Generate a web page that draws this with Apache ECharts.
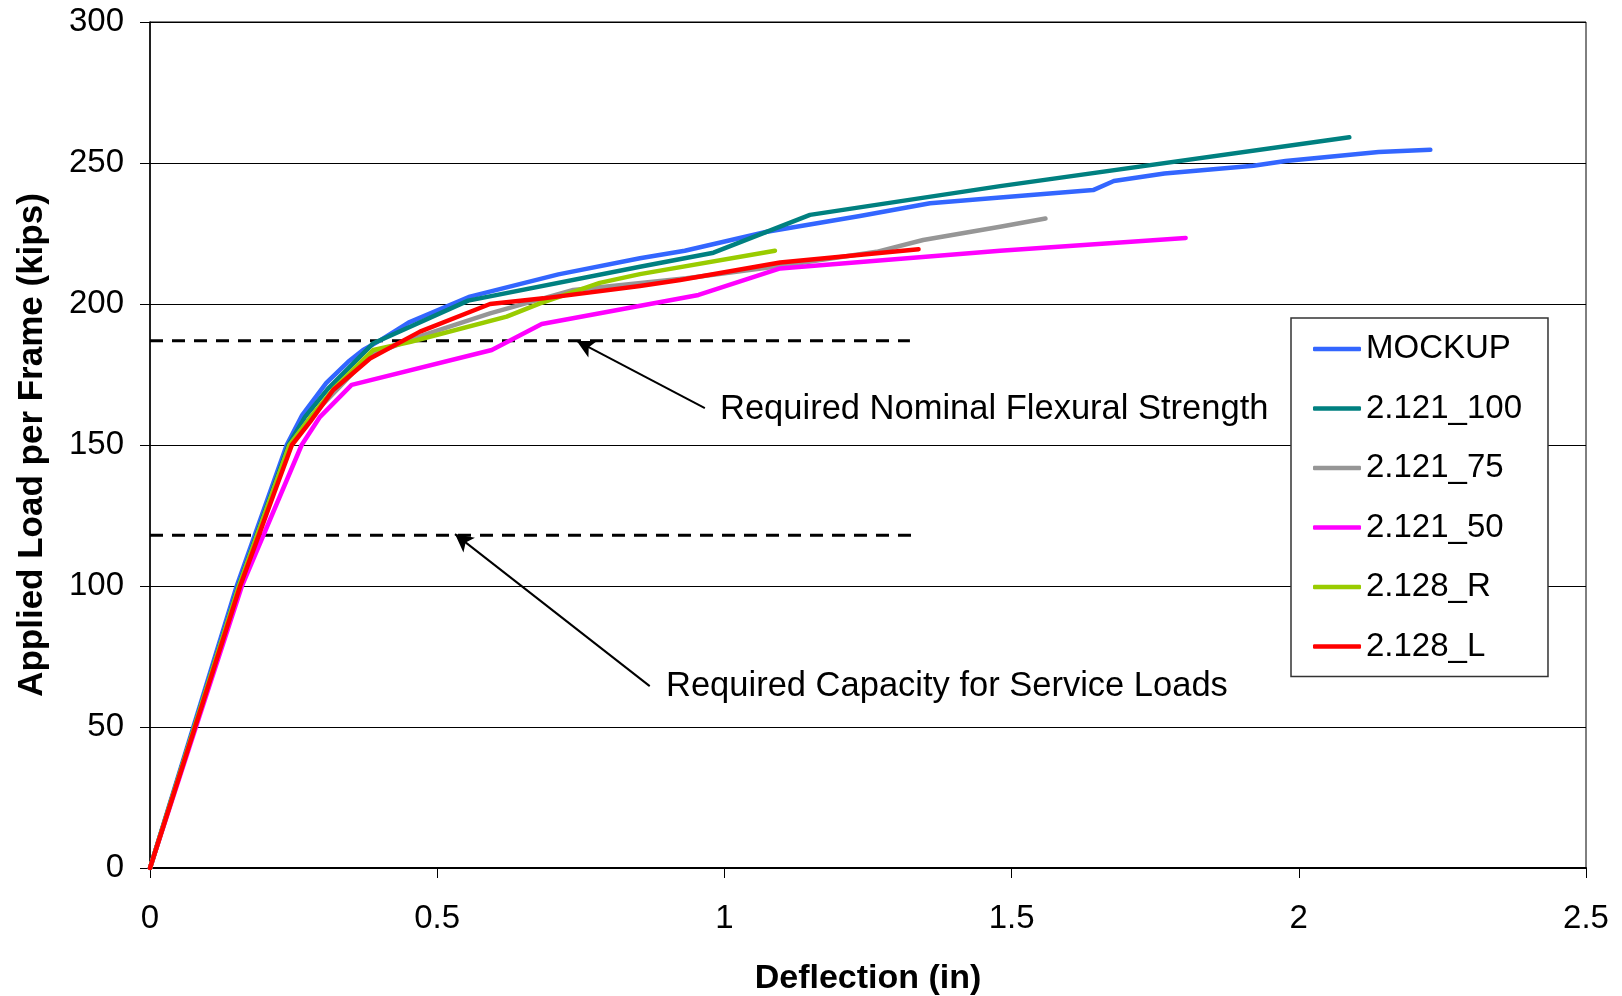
<!DOCTYPE html>
<html>
<head>
<meta charset="utf-8">
<script src="https://cdn.jsdelivr.net/npm/echarts@6/dist/echarts.min.js"></script>
<style>
  html, body { margin: 0; padding: 0; background: #fff; }
  #main { width: 1622px; height: 996px; }
</style>
</head>
<body>
<div id="main"></div>
<script>
// deflection (in), load (kips)
var mockup = [[0,0],[0.151,100],[0.238,150],[0.265,160.6],[0.307,172],[0.345,179.5],[0.371,183.7],[0.400,187],[0.450,193.4],[0.557,202.6],[0.711,210.5],[0.853,216.2],[0.931,218.9],[1.074,225.6],[1.236,231.2],[1.358,235.7],[1.48,237.8],[1.642,240.4],[1.678,243.6],[1.766,246.3],[1.921,249.0],[1.977,250.7],[2.139,253.9],[2.229,254.7]];
var s121_100 = [[0,0],[0.154,100],[0.241,150],[0.27,160],[0.31,170],[0.389,186.1],[0.554,201.2],[0.853,213.2],[0.981,218.2],[1.149,231.6],[1.48,241.8],[2.088,259.1]];
var s121_75 = [[0,0],[0.155,100],[0.243,150],[0.28,160],[0.325,169.5],[0.383,181.9],[0.476,189],[0.592,196.7],[0.737,205],[0.934,209.1],[1.097,213.5],[1.265,218.5],[1.346,222.7],[1.48,227.4],[1.559,230.3]];
var s121_50 = [[0,0],[0.16,100],[0.264,150],[0.296,160],[0.351,171.3],[0.595,183.7],[0.682,192.9],[0.955,203.2],[1.097,212.6],[1.48,218.9],[1.803,223.4]];
var s128_R = [[0,0],[0.155,100],[0.243,150],[0.28,160],[0.32,170],[0.389,183.7],[0.454,186.6],[0.621,195.5],[0.679,200.2],[0.783,207.5],[0.853,210.6],[1.088,218.9]];
var s128_L = [[0,0],[0.157,100],[0.19,118.3],[0.216,132.9],[0.247,150],[0.279,158.3],[0.319,169.5],[0.383,180.7],[0.470,190.2],[0.592,200],[0.685,202],[0.853,206.4],[0.923,208.5],[1.097,214.7],[1.338,219.4]];

var names = ['MOCKUP', '2.121_100', '2.121_75', '2.121_50', '2.128_R', '2.128_L'];
var colors = ['#3366FF', '#008080', '#969696', '#FF00FF', '#99CC00', '#FF0000'];
var curves = [mockup, s121_100, s121_75, s121_50, s128_R, s128_L];

// required strength levels (dashed)
var nominalLine = [[0,187],[1.323,187]];
var serviceLine = [[0,118],[1.338,118]];
// annotation arrows: [tail, head]
var nominalArrow = [[0.966,163.1],[0.743,186.9]];
var serviceArrow = [[0.870,64.5],[0.531,118.4]];

var chart = echarts.init(document.getElementById('main'));
var font = 'Liberation Sans, Arial, sans-serif';

var series = curves.map(function (d, i) {
    return {
        name: names[i],
        type: 'line',
        data: d,
        symbol: 'none',
        itemStyle: { color: colors[i] },
        lineStyle: { width: 4.5, color: colors[i], cap: 'round', join: 'round' },
        z: 3 + i
    };
});

function dashed(d, arrow) {
    return {
        type: 'line',
        data: d,
        symbol: 'none',
        silent: true,
        lineStyle: { color: '#000', width: 3, type: [13, 9] },
        z: 2,
        markLine: {
            silent: true,
            symbol: ['none', 'arrow'],
            symbolSize: [14, 18],
            label: { show: false },
            lineStyle: { color: '#000', width: 2, type: 'solid' },
            data: [[{ coord: arrow[0] }, { coord: arrow[1] }]]
        }
    };
}
series.push(dashed(nominalLine, nominalArrow));
series.push(dashed(serviceLine, serviceArrow));

chart.setOption({
    animation: false,
    backgroundColor: '#fff',
    grid: {
        left: 150, right: 36, top: 22, bottom: 128,
        outerBoundsMode: 'none', containLabel: false,
        show: true, borderColor: '#000', borderWidth: 1
    },
    xAxis: {
        type: 'value', min: 0, max: 2.5, interval: 0.5,
        name: 'Deflection (in)', nameLocation: 'middle', nameGap: 94,
        nameTextStyle: { fontFamily: font, fontSize: 34, fontWeight: 'bold', color: '#000' },
        axisLine: { lineStyle: { color: '#000', width: 2 } },
        axisTick: { length: 10, lineStyle: { color: '#000' } },
        axisLabel: { fontFamily: font, fontSize: 33, color: '#000', margin: 34 },
        splitLine: { show: false }
    },
    yAxis: {
        type: 'value', min: 0, max: 300, interval: 50,
        name: 'Applied Load per Frame (kips)', nameLocation: 'middle', nameGap: 100,
        nameTextStyle: { fontFamily: font, fontSize: 35, fontWeight: 'bold', color: '#000' },
        axisLine: { show: true, lineStyle: { color: '#000', width: 1.5 } },
        axisTick: { show: true, length: 10, lineStyle: { color: '#000' } },
        axisLabel: { fontFamily: font, fontSize: 33, color: '#000', margin: 26 },
        splitLine: { lineStyle: { color: '#000', width: 1 } }
    },
    legend: {
        data: names.map(function (n) { return { name: n, icon: 'roundRect' }; }),
        orient: 'vertical',
        left: 1291, top: 318,
        padding: [11, 26, 10, 22],
        itemWidth: 48, itemHeight: 4.5, itemGap: 19.5,
        backgroundColor: '#fff',
        borderColor: '#333', borderWidth: 1.5,
        textStyle: { fontFamily: font, fontSize: 33, color: '#000', lineHeight: 40 }
    },
    graphic: [
        { type: 'text', left: 720, top: 392, style: { text: 'Required Nominal Flexural Strength', font: '34.5px ' + font, fill: '#000' } },
        { type: 'text', left: 666, top: 669, style: { text: 'Required Capacity for Service Loads', font: '34.5px ' + font, fill: '#000' } }
    ],
    series: series
});
</script>
</body>
</html>
